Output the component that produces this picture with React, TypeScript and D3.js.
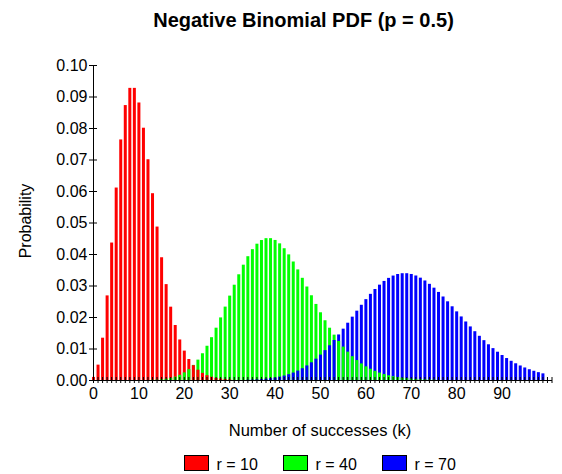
import React, { useRef, useEffect } from "react";
import * as d3 from "d3";

// Negative binomial probabilities, p = 0.5
const r10Start = 0;
const r10Values = [
  0.00098, 0.00488, 0.01343, 0.02686, 0.04364, 0.0611, 0.07637, 0.08728,
  0.09274, 0.09274, 0.0881, 0.08009, 0.07008, 0.0593, 0.04871, 0.03897,
  0.03044, 0.02328, 0.01746, 0.01287, 0.00933, 0.00666, 0.00469, 0.00327,
  0.00225, 0.00153, 0.00103, 0.00069, 0.00045, 0.0003, 0.00019,
];

const r40Start = 13;
const r40Values = [
  0.00007, 0.00013, 0.00024, 0.00041, 0.00068, 0.00108, 0.00164, 0.00242,
  0.00346, 0.0048, 0.00647, 0.00849, 0.01087, 0.01359, 0.01661, 0.01987,
  0.0233, 0.02679, 0.03025, 0.03356, 0.03661, 0.0393, 0.04154, 0.04327,
  0.04444, 0.04503, 0.04503, 0.04446, 0.04338, 0.04183, 0.03988, 0.03762,
  0.03511, 0.03244, 0.02968, 0.0269, 0.02415, 0.0215, 0.01897, 0.0166,
  0.0144, 0.0124, 0.0106, 0.00899, 0.00757, 0.00633, 0.00526, 0.00434,
  0.00356, 0.0029, 0.00234, 0.00189, 0.00151, 0.0012, 0.00095, 0.00075,
  0.00059, 0.00046, 0.00035, 0.00027, 0.00021, 0.00016, 0.00012,
];

const r70Start = 34;
const r70Values = [
  0.0001, 0.00014, 0.00021, 0.0003, 0.00042, 0.00059, 0.0008, 0.00107,
  0.00141, 0.00184, 0.00236, 0.00299, 0.00374, 0.00462, 0.00562, 0.00677,
  0.00806, 0.00948, 0.01103, 0.0127, 0.01446, 0.0163, 0.01819, 0.02011,
  0.02201, 0.02388, 0.02567, 0.02735, 0.02889, 0.03027, 0.03145, 0.03242,
  0.03316, 0.03365, 0.0339, 0.0339, 0.03366, 0.03318, 0.03249, 0.0316,
  0.03053, 0.02931, 0.02796, 0.02651, 0.02498, 0.0234, 0.02179, 0.02018,
  0.01858, 0.01701, 0.01549, 0.01403, 0.01265, 0.01134, 0.01012, 0.00898,
  0.00793, 0.00697, 0.0061, 0.00531, 0.00461, 0.00398, 0.00342, 0.00293,
  0.00249, 0.00211,
];

const seriesNames = ["r = 10", "r = 40", "r = 70"];
const seriesColors = ["#ff0000", "#00ff00", "#0000ff"];
const xTickLabels = [0, 10, 20, 30, 40, 50, 60, 70, 80, 90];
const yTicks = [0, 0.01, 0.02, 0.03, 0.04, 0.05, 0.06, 0.07, 0.08, 0.09, 0.1];
const kMax = 101;

const W = 562;
const H = 474;
const FONT = "'Liberation Sans', Arial, sans-serif";

type Bar = { k: number; v: number; s: number };

const NegBinomialChart = () => {
  const svgRef = useRef<SVGSVGElement>(null);

  useEffect(() => {
    const svg = d3.select(svgRef.current);
    svg.selectAll("*").remove();

    const left = 93;
    const right = 551.5;
    const bottom = 380;
    const top = 65;

    const x = d3.scaleLinear().domain([0, kMax]).range([left, right]);
    const y = d3.scaleLinear().domain([0, 0.1]).range([bottom, top]);

    // flatten series, draw taller bar first so the shorter one stays visible
    const bars: Bar[] = [];
    const add = (start: number, vals: number[], s: number) =>
      vals.forEach((v, i) => bars.push({ k: start + i, v, s }));
    add(r10Start, r10Values, 0);
    add(r40Start, r40Values, 1);
    add(r70Start, r70Values, 2);
    bars.sort((a, b) => a.k - b.k || b.v - a.v);

    const barW = 3;
    svg
      .append("g")
      .selectAll("rect")
      .data(bars)
      .enter()
      .append("rect")
      .attr("x", (d) => x(d.k) - barW / 2 + 0.5)
      .attr("y", (d) => y(d.v))
      .attr("width", barW)
      .attr("height", (d) => bottom - y(d.v))
      .attr("fill", (d) => seriesColors[d.s]);

    // y axis
    const yAxis = d3
      .axisLeft(y)
      .tickValues(yTicks)
      .tickFormat(d3.format(".2f"))
      .tickSize(4)
      .tickSizeOuter(0)
      .tickPadding(1.5);
    const gy = svg.append("g").attr("transform", `translate(${left},0)`).call(yAxis);
    gy.selectAll(".tick line").attr("x1", 4);
    gy.selectAll("text")
      .attr("font-family", FONT)
      .attr("font-size", 16)
      .attr("fill", "#000");

    // x axis, a tick at every k, labels every 10
    const xAxis = d3
      .axisBottom(x)
      .tickValues(d3.range(0, kMax + 1))
      .tickFormat((d) => (xTickLabels.includes(+d) ? String(d) : ""))
      .tickSize(3)
      .tickSizeOuter(0)
      .tickPadding(5);
    const gx = svg.append("g").attr("transform", `translate(0,${bottom})`).call(xAxis);
    gx.selectAll(".tick line").attr("y1", -3);
    gx.selectAll("text")
      .attr("font-family", FONT)
      .attr("font-size", 16)
      .attr("fill", "#000");
    svg.selectAll(".domain").attr("stroke", "#000");
    svg.selectAll(".tick line").attr("stroke", "#000");

    // titles
    svg
      .append("text")
      .attr("x", 303.5)
      .attr("y", 27)
      .attr("text-anchor", "middle")
      .attr("font-family", FONT)
      .attr("font-weight", "bold")
      .attr("font-size", 20)
      .text("Negative Binomial PDF (p = 0.5)");

    svg
      .append("text")
      .attr("x", 320)
      .attr("y", 436)
      .attr("text-anchor", "middle")
      .attr("font-family", FONT)
      .attr("font-size", 16.5)
      .text("Number of successes (k)");

    svg
      .append("text")
      .attr("transform", "translate(31,221) rotate(-90)")
      .attr("text-anchor", "middle")
      .attr("font-family", FONT)
      .attr("font-size", 16)
      .text("Probability");

    // legend
    const legendX = [184.5, 283.5, 382.5];
    const legend = svg.append("g");
    seriesNames.forEach((name, i) => {
      legend
        .append("rect")
        .attr("x", legendX[i])
        .attr("y", 455.5)
        .attr("width", 24)
        .attr("height", 15)
        .attr("fill", seriesColors[i])
        .attr("stroke", "#000");
      legend
        .append("text")
        .attr("x", legendX[i] + 32)
        .attr("y", 470)
        .attr("font-family", FONT)
        .attr("font-size", 16)
        .text(name);
    });
  }, []);

  return (
    <svg
      ref={svgRef}
      width={W}
      height={H}
      style={{ position: "absolute", left: 0, top: 0, background: "#fff" }}
    ></svg>
  );
};

export default function App() {
  return <NegBinomialChart />;
}
